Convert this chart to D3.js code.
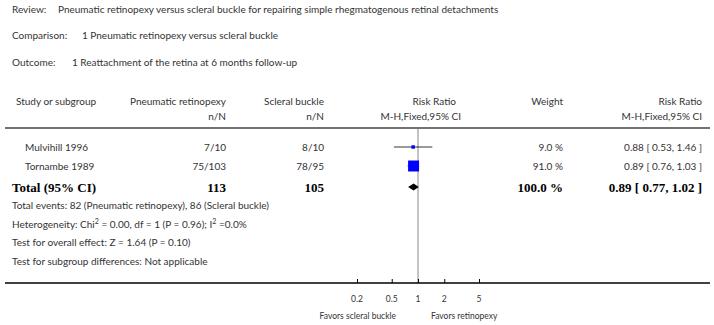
<!DOCTYPE html>
<html><head><meta charset="utf-8">
<script src="https://cdn.jsdelivr.net/npm/d3@7"></script>
<style>
html,body{margin:0;padding:0;background:#fff;}
svg{display:block;}
text{font-family:Lato,"Open Sans",sans-serif;fill:#333;}
.b{font-family:"Liberation Serif","Times New Roman",serif;font-weight:bold;fill:#000;}
</style></head>
<body>
<script>
const studies = ["Mulvihill 1996", "Tornambe 1989"];
const pnEvents = [7, 75];
const pnTotal = [10, 103];
const sbEvents = [8, 78];
const sbTotal = [10, 95];
const rr = [0.88, 0.89];
const rrLow = [0.53, 0.76];
const rrHigh = [1.46, 1.03];
const weights = [9.0, 91.0];
const totalRR = [0.89, 0.77, 1.02];
const totalN = [113, 105];
const axisTicks = [0.2, 0.5, 1, 2, 5];
const headerLines = [
  ["Review:", "Pneumatic retinopexy versus scleral buckle for repairing simple rhegmatogenous retinal detachments"],
  ["Comparison:", "1 Pneumatic retinopexy versus scleral buckle"],
  ["Outcome:", "1 Reattachment of the retina at 6 months follow-up"]
];
const footLines = [
  "Total events: 82 (Pneumatic retinopexy), 86 (Scleral buckle)",
  "HET",
  "Test for overall effect: Z = 1.64 (P = 0.10)",
  "Test for subgroup differences: Not applicable"
];

const W = 714, H = 325;
const svg = d3.select("body").append("svg").attr("width", W).attr("height", H);
const fs = 10;

function t(x, y, s, anchor, cls, size) {
  const e = svg.append("text").attr("x", x).attr("y", y).attr("font-size", size || fs)
    .attr("text-anchor", anchor || "start").text(s);
  if (cls) e.attr("class", cls);
  return e;
}

// header info
const valX = [58, 82, 72];
headerLines.forEach((l, i) => {
  const y = 13 + i * 26.3;
  t(12, y, l[0]);
  t(valX[i], y, l[1]);
});

// columns
const colStudy = 25, colPn = 226, colSb = 324, colW = 563, colRR = 702;
const y1 = 105, y2 = 120;
t(16, y1, "Study or subgroup");
t(colPn, y1, "Pneumatic retinopexy", "end");
t(colSb, y1, "Scleral buckle", "end");
t(456, y1, "Risk Ratio", "end");
t(colW, y1, "Weight", "end");
t(colRR, y1, "Risk Ratio", "end");
t(colPn, y2, "n/N", "end");
t(colSb, y2, "n/N", "end");
t(461, y2, "M-H,Fixed,95% CI", "end");
t(colRR, y2, "M-H,Fixed,95% CI", "end");

svg.append("line").attr("x1", 5).attr("x2", 710).attr("y1", 128).attr("y2", 128)
  .attr("stroke", "#444").attr("stroke-width", 1.6);

const x = d3.scaleLog().domain([0.2, 5]).range([357, 479]);
const rowY = d3.scalePoint().domain(studies).range([147, 166]);

// vertical line at 1
svg.append("line").attr("x1", x(1)).attr("x2", x(1)).attr("y1", 129).attr("y2", 283)
  .attr("stroke", "#888").attr("stroke-width", 1);

const fmt2 = d3.format(".2f");
studies.forEach((s, i) => {
  const y = rowY(s);
  t(colStudy, y + 3.5, s);
  t(colPn, y + 3.5, pnEvents[i] + "/" + pnTotal[i], "end");
  t(colSb, y + 3.5, sbEvents[i] + "/" + sbTotal[i], "end");
  t(colW, y + 3.5, weights[i].toFixed(1) + " %", "end");
  t(colRR, y + 3.5, fmt2(rr[i]) + " [ " + fmt2(rrLow[i]) + ", " + fmt2(rrHigh[i]) + " ]", "end");
  svg.append("line").attr("x1", x(rrLow[i])).attr("x2", x(rrHigh[i])).attr("y1", y).attr("y2", y)
    .attr("stroke", "#000").attr("stroke-width", 0.8);
  const side = Math.sqrt(weights[i]) * 1.15;
  svg.append("rect").attr("x", x(rr[i]) - side / 2).attr("y", y - side / 2)
    .attr("width", side).attr("height", side).attr("fill", "#0000ff");
});

// total row
const yT = 187;
t(12, yT + 4.5, "Total (95% CI)", "start", "b", 13);
t(colPn, yT + 4.5, totalN[0], "end", "b", 13);
t(colSb, yT + 4.5, totalN[1], "end", "b", 13);
t(colW, yT + 4.5, "100.0 %", "end", "b", 13);
t(colRR, yT + 4.5, fmt2(totalRR[0]) + " [ " + fmt2(totalRR[1]) + ", " + fmt2(totalRR[2]) + " ]", "end", "b", 13);
const dh = 3.5;
svg.append("path").attr("d",
  `M${x(totalRR[1])},${yT} L${x(totalRR[0])},${yT - dh} L${x(totalRR[2])},${yT} L${x(totalRR[0])},${yT + dh} Z`)
  .attr("fill", "#000");

// footer lines
const fy = [205, 224, 242.5, 261];
footLines.forEach((l, i) => {
  if (l === "HET") {
    const e = svg.append("text").attr("x", 12).attr("y", fy[i] + 3.5).attr("font-size", fs);
    e.append("tspan").text("Heterogeneity: Chi");
    e.append("tspan").attr("font-size", 7).attr("dy", -4).text("2");
    e.append("tspan").attr("dy", 4).text(" = 0.00, df = 1 (P = 0.96); I");
    e.append("tspan").attr("font-size", 7).attr("dy", -4).text("2");
    e.append("tspan").attr("dy", 4).text(" =0.0%");
  } else {
    t(12, fy[i] + 3.5, l);
  }
});

// axis
svg.append("line").attr("x1", 5).attr("x2", 710).attr("y1", 283).attr("y2", 283)
  .attr("stroke", "#000").attr("stroke-width", 1.4);
const ax = d3.axisTop(x).tickValues(axisTicks).tickSize(4).tickFormat(d => d3.format("")(d));
const g = svg.append("g").attr("transform", "translate(0,283)").call(ax);
g.select(".domain").remove();
g.selectAll(".tick line").attr("stroke", "#000");
g.selectAll(".tick text").remove();
axisTicks.forEach(v => t(x(v), 302, v, "middle", null, 8.5));
t(x(1) - 22, 319, "Favors scleral buckle", "end", null, 8.5);
t(x(1) + 13, 319, "Favors retinopexy", "start", null, 8.5);
</script>
</body></html>
